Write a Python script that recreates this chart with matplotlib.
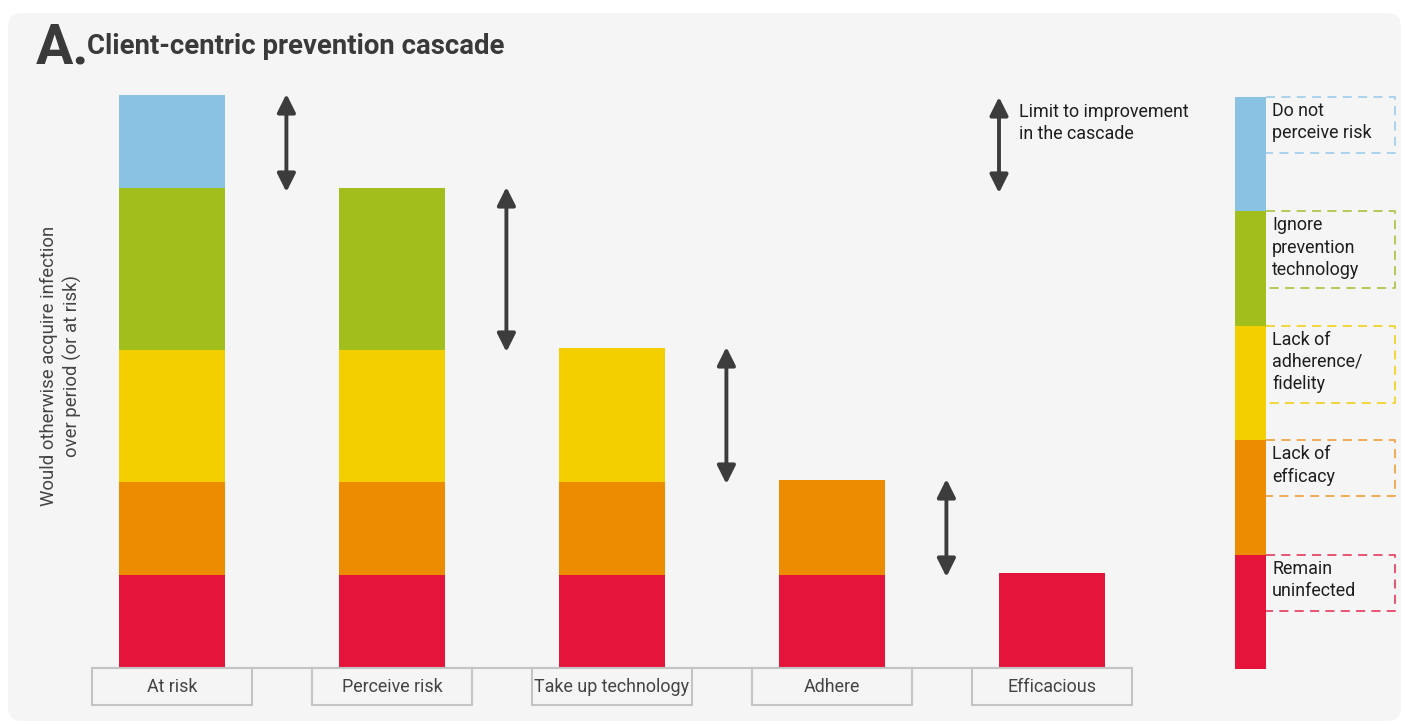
import matplotlib
matplotlib.use('Agg')
import matplotlib.pyplot as plt
from matplotlib.patches import Rectangle, FancyBboxPatch
from matplotlib import font_manager

# ---------------- data ----------------
categories = ['At risk', 'Perceive risk', 'Take up technology', 'Adhere', 'Efficacious']
segment_labels = ['Remain\nuninfected', 'Lack of\nefficacy', 'Lack of\nadherence/\nfidelity',
                  'Ignore\nprevention\ntechnology', 'Do not\nperceive risk']
# stacked from bottom to top (arbitrary units)
remain_uninfected = [93, 93, 93, 93, 95]
lack_of_efficacy = [93, 93, 93, 95, 0]
lack_of_adherence = [132, 132, 134, 0, 0]
ignore_technology = [162, 162, 0, 0, 0]
not_perceive_risk = [93, 0, 0, 0, 0]
series = [remain_uninfected, lack_of_efficacy, lack_of_adherence, ignore_technology, not_perceive_risk]
colors = ['#e4143b', '#ee8c00', '#f4cf00', '#a1be1c', '#89c2e3']
dash_colors = ['#e8466a', '#f0a545', '#f2d32a', '#adc64a', '#a5d0ea']

# ---------------- fonts ----------------
names = {f.name for f in font_manager.fontManager.ttflist}
if 'Liberation Sans Narrow' in names:
    FONT = 'Liberation Sans Narrow'; S = 1.0
else:
    FONT = 'Roboto'; S = 0.86
plt.rcParams['font.family'] = [FONT, 'DejaVu Sans']

W, H = 1405, 725
fig = plt.figure(figsize=(W / 100, H / 100), dpi=100, facecolor='white')

def fx(px):
    return px / W

def fy(py):
    return 1 - py / H

# background / decoration axes in pixel coordinates
bg = fig.add_axes([0, 0, 1, 1], zorder=0)
bg.set_xlim(0, W)
bg.set_ylim(H, 0)
bg.axis('off')
bg.add_patch(FancyBboxPatch((8, 13), 1393, 708, boxstyle='round,pad=0,rounding_size=14',
                            fc='#f5f5f5', ec='none'))

# title
bg.text(36, 63, 'A.', fontsize=40, fontweight='bold', color='#3a3a3a', va='baseline')
bg.text(87, 54, 'Client-centric prevention cascade', fontsize=23 * S, fontweight='bold',
        color='#3a3a3a', va='baseline')

# y label
bg.text(61, 366, 'Would otherwise acquire infection\nover period (or at risk)', rotation=90,
        ha='center', va='center', multialignment='center', fontsize=13.3, color='#444444',
        linespacing=1.3)

# ---------------- main axes ----------------
ax = fig.add_axes([fx(92), fy(705), (1133 - 92) / W, (705 - 80) / H], zorder=1)
ax.set_xlim(-80 / 220, 4 + 81 / 220)
ax.set_ylim(-37, 588)
ax.axis('off')

x = list(range(len(categories)))
bottoms = [0] * len(categories)
for vals, col in zip(series, colors):
    ax.bar(x, vals, bottom=bottoms, width=106 / 220, color=col, edgecolor='none', zorder=2)
    bottoms = [b + v for b, v in zip(bottoms, vals)]
totals = bottoms

ax.axhline(0, color='#c4c4c4', lw=1.5, zorder=1)
box_w = 160 / 220
for i, cat in enumerate(categories):
    ax.add_patch(Rectangle((i - box_w / 2, -37), box_w, 37, fc='#f5f5f5', ec='#c4c4c4',
                           lw=1.5, zorder=3, clip_on=False))
    ax.text(i, -18.5, cat, ha='center', va='center', fontsize=15 * S, color='#444444', zorder=4)

arrow_kw = dict(arrowstyle='<|-|>,head_length=1.0,head_width=0.5', lw=2.8, color='#3c3c3c',
                shrinkA=0, shrinkB=0, mutation_scale=11)
pad_top, pad_bot = 1, 4   # small visual overshoot of the arrow tips
for i in range(len(categories) - 1):
    ax.annotate('', xy=(i + 0.52, totals[i + 1] - pad_bot), xytext=(i + 0.52, totals[i] + pad_top),
                arrowprops=arrow_kw, zorder=3)

# legend arrow
bg.annotate('', xy=(999, 97), xytext=(999, 193), arrowprops=arrow_kw)
bg.text(1019, 103, 'Limit to improvement\nin the cascade', ha='left', va='top',
        fontsize=15 * S, color='#1e1e1e', linespacing=1.3)

# ---------------- legend strip ----------------
strip_top, strip_bot = 97, 669
seg_h = (strip_bot - strip_top) / len(segment_labels)
for k, (lab, col, dcol) in enumerate(zip(segment_labels, colors, dash_colors)):
    bot = strip_bot - k * seg_h
    top = bot - seg_h
    bg.add_patch(Rectangle((1235, top), 31, seg_h, fc=col, ec='none'))
    nlines = lab.count('\n') + 1
    bh = 56 if nlines == 2 else 77
    bg.plot([1266, 1395, 1395, 1266], [top, top, top + bh, top + bh], color=dcol, lw=1.3,
            linestyle=(0, (5, 3.5)))
    bg.text(1272, top + 5, lab, ha='left', va='top', fontsize=15 * S, color='#1e1e1e',
            linespacing=1.3)

fig.savefig('out.png', dpi=100, facecolor='white')
